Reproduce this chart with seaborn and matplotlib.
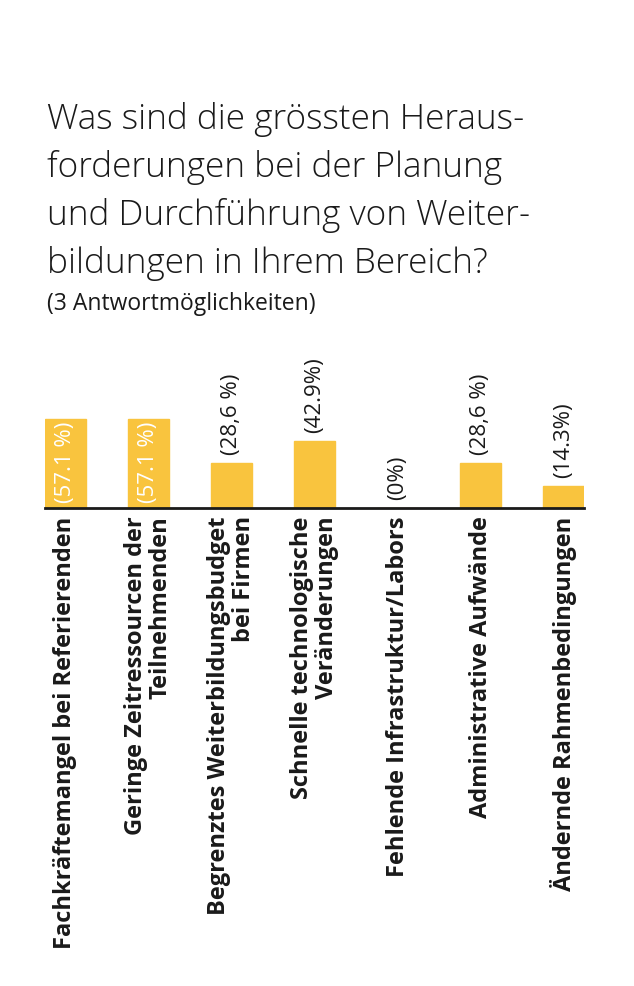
import numpy as np
import pandas as pd
import seaborn as sns
import matplotlib.pyplot as plt

# data
categories = [
    "Fachkräftemangel bei Referierenden",
    "Geringe Zeitressourcen der\nTeilnehmenden",
    "Begrenztes Weiterbildungsbudget\nbei Firmen",
    "Schnelle technologische\nVeränderungen",
    "Fehlende Infrastruktur/Labors",
    "Administrative Aufwände",
    "Ändernde Rahmenbedingungen",
]
values = [57.1, 57.1, 28.6, 42.9, 0.0, 28.6, 14.3]
value_labels = ["(57.1 %)", "(57.1 %)", "(28,6 %)", "(42.9%)", "(0%)", "(28,6 %)", "(14.3%)"]
inside = [True, True, False, False, False, False, False]

title_lines = [
    "Was sind die grössten Heraus-",
    "forderungen bei der Planung",
    "und Durchführung von Weiter-",
    "bildungen in Ihrem Bereich?",
]
subtitle = "(3 Antwortmöglichkeiten)"

bar_color = "#F9C43E"
ink = "#1a1a1a"

sns.set_style("white")
plt.rcParams["font.family"] = ["Open Sans", "DejaVu Sans"]

df = pd.DataFrame({"cat": categories, "val": values})

W, H = 634, 986
fig = plt.figure(figsize=(W / 100, H / 100), dpi=100)
ax = fig.add_axes([45 / W, 1 - 508 / H, (584 - 45) / W, 158 / H])

sns.barplot(data=df, x="cat", y="val", color=bar_color, width=0.49,
            edgecolor=bar_color, linewidth=1, saturation=1, ax=ax)
ax.set_xlim(-0.245, len(categories) - 1 + 0.245)
ax.set_ylim(0, 101)

for s in ["top", "right", "left"]:
    ax.spines[s].set_visible(False)
ax.spines["bottom"].set_color(ink)
ax.spines["bottom"].set_linewidth(2)
ax.set_yticks([])
ax.set_xlabel("")
ax.set_ylabel("")
ax.tick_params(axis="x", length=0, pad=6)
ax.set_xticks(range(len(categories)))
ax.set_xticklabels(categories, rotation=90, ha="center", va="top",
                   fontsize=17, fontweight="bold", color=ink,
                   multialignment="right", linespacing=1.05)

for i, (v, lab, ins) in enumerate(zip(values, value_labels, inside)):
    if ins:
        ax.text(i, 3, lab, rotation=90, ha="center", va="bottom",
                fontsize=16, color="white")
    else:
        ax.text(i, v + 5, lab, rotation=90, ha="center", va="bottom",
                fontsize=16, color=ink)

baselines = [129, 177, 225, 273]
for line, yb in zip(title_lines, baselines):
    fig.text(47 / W, 1 - yb / H, line, fontsize=25.4, fontweight="light",
             color=ink, ha="left", va="baseline")
fig.text(47 / W, 1 - 310 / H, subtitle, fontsize=16.5, fontweight="medium",
         color=ink, ha="left", va="baseline")

fig.savefig("out.png", dpi=100, facecolor="white")
